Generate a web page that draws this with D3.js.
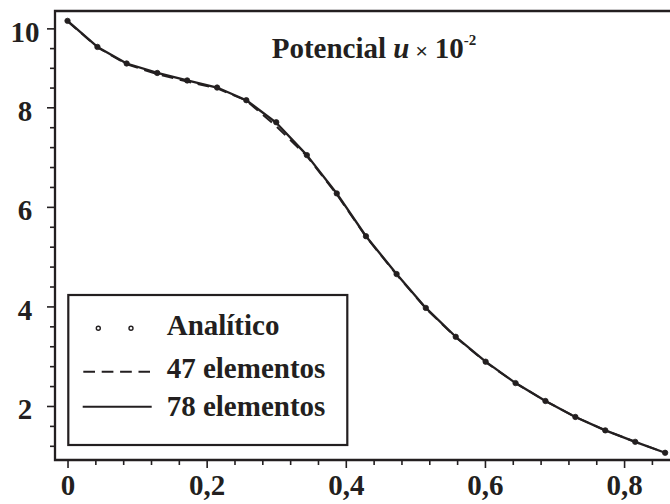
<!DOCTYPE html>
<html>
<head>
<meta charset="utf-8">
<script src="https://cdn.jsdelivr.net/npm/d3@7"></script>
<style>
  body { margin: 0; background: #fff; }
  svg { display: block; }
</style>
</head>
<body>
<svg id="chart" width="670" height="504"></svg>
<script>
// Sample positions along the section
const xNodes = [0, 0.043, 0.085, 0.129, 0.172, 0.215, 0.257, 0.300, 0.344, 0.387, 0.429,
                0.473, 0.515, 0.558, 0.601, 0.644, 0.687, 0.730, 0.773, 0.816, 0.859];
// Analytical potential u (x 10^-2)
const analitico = [10.19, 9.53, 9.11, 8.87, 8.68, 8.50, 8.18, 7.70, 7.04, 6.27, 5.41,
                   4.65, 3.97, 3.39, 2.89, 2.46, 2.10, 1.78, 1.51, 1.28, 1.06];
// FEM solution, 78 elements
const elem78 = [10.19, 9.53, 9.11, 8.87, 8.68, 8.50, 8.18, 7.69, 7.04, 6.27, 5.41,
                4.65, 3.97, 3.39, 2.89, 2.46, 2.10, 1.78, 1.51, 1.28, 1.06];
// FEM solution, 47 elements
const elem47 = [10.18, 9.52, 9.09, 8.84, 8.65, 8.48, 8.17, 7.62, 7.02, 6.25, 5.40,
                4.64, 3.96, 3.38, 2.88, 2.46, 2.10, 1.78, 1.51, 1.28, 1.06];

const xTicks = [0, 0.2, 0.4, 0.6, 0.8];
const xMinorTicks = [0.04, 0.08, 0.12, 0.16, 0.24, 0.28, 0.32, 0.36, 0.44, 0.48, 0.52, 0.56,
                     0.64, 0.68, 0.72, 0.76, 0.84];
const yTicks = [2, 4, 6, 8, 10];
const yMinorTicks = [1.2, 1.6, 2.4, 2.8, 3.2, 3.6, 4.4, 4.8, 5.2, 5.6, 6.4, 6.8, 7.2, 7.6,
                     8.5, 9, 9.5];
const legendLabels = ["Analítico", "47 elementos", "78 elementos"];

const svg = d3.select("#chart");
const frame = { left: 55, right: 670, top: 11, bottom: 460 };
const ink = "#231f20";
const serif = "'Liberation Serif', 'Times New Roman', Times, serif";

const x = d3.scaleLinear().domain([-0.018, 0.866]).range([frame.left, frame.right]);
// The axis is stretched differently above 8
const y = d3.scaleLinear().domain([0.915, 8, 10.44]).range([frame.bottom, 107.3, frame.top]);

const comma = d3.formatLocale({ decimal: ",", thousands: ".", grouping: [3], currency: ["", ""] });
const fmt = comma.format("~g");

function styleLabel(sel, size) {
  return sel.attr("font-family", serif).attr("font-weight", "bold")
    .attr("font-size", size).attr("fill", ink);
}

// --- axes ---
const gx = svg.append("g").attr("transform", `translate(0,${frame.bottom})`);
gx.append("g").call(d3.axisBottom(x).tickValues(xMinorTicks).tickSize(5).tickFormat(""));
gx.append("g").call(d3.axisBottom(x).tickValues(xTicks).tickSize(8).tickFormat(fmt));
gx.selectAll(".domain").remove();
gx.selectAll(".tick line").attr("stroke", ink).attr("stroke-width", 1.6);
styleLabel(gx.selectAll(".tick text"), 29).attr("y", 35).attr("dy", 0);

const gy = svg.append("g").attr("transform", `translate(${frame.left},0)`);
gy.append("g").call(d3.axisLeft(y).tickValues(yMinorTicks).tickSize(5).tickFormat(""));
gy.append("g").call(d3.axisLeft(y).tickValues(yTicks).tickSize(8).tickFormat(fmt));
gy.selectAll(".domain").remove();
gy.selectAll(".tick line").attr("stroke", ink).attr("stroke-width", 1.6);
styleLabel(gy.selectAll(".tick text"), 29)
  .attr("text-anchor", "middle").attr("x", -30).attr("dy", 0)
  .attr("y", d => Math.max(y(d) + 13, frame.top + 21) - y(d));

// frame lines
svg.append("path")
  .attr("d", `M${frame.right},${frame.top}H${frame.left}V${frame.bottom}H${frame.right}`)
  .attr("fill", "none").attr("stroke", ink).attr("stroke-width", 2.3);

// --- series ---
const line = d3.line().x((d, i) => x(xNodes[i])).y(d => y(d));

svg.append("path").datum(elem47)
  .attr("d", line).attr("fill", "none").attr("stroke", ink)
  .attr("stroke-width", 2).attr("stroke-dasharray", "11.7 6.7");

svg.append("path").datum(elem78)
  .attr("d", line).attr("fill", "none").attr("stroke", ink)
  .attr("stroke-width", 2.3).attr("stroke-linejoin", "round");

svg.append("g").selectAll("circle").data(analitico).join("circle")
  .attr("cx", (d, i) => x(xNodes[i])).attr("cy", d => y(d))
  .attr("r", 2.7).attr("fill", ink).attr("stroke", ink).attr("stroke-width", 0.8);

// --- title ---
const title = styleLabel(svg.append("text"), 29).attr("x", 271.7).attr("y", 57.5);
title.append("tspan").text("Potencial ");
title.append("tspan").attr("font-style", "italic").text("u");
title.append("tspan").attr("font-weight", "normal")
  .attr("font-family", "'Liberation Sans', Arial, sans-serif")
  .attr("font-size", 21).attr("dx", 6).text("×");
title.append("tspan").attr("dx", 7).text("10");
title.append("tspan").attr("font-size", 15).attr("dy", -13).text("-2");

// --- legend ---
const lg = svg.append("g");
lg.append("rect").attr("x", 68.3).attr("y", 295).attr("width", 279).attr("height", 150)
  .attr("fill", "#fff").attr("stroke", ink).attr("stroke-width", 2.2);

const rows = [335, 378.3, 416];
styleLabel(lg.selectAll("text").data(legendLabels).join("text"), 29)
  .attr("x", 166.7).attr("y", (d, i) => rows[i]).text(d => d);

lg.selectAll("circle").data([98.3, 131]).join("circle")
  .attr("cx", d => d).attr("cy", 328.3).attr("r", 2)
  .attr("fill", "#fff").attr("stroke", ink).attr("stroke-width", 1.4);
lg.append("line").attr("x1", 83.3).attr("x2", 150).attr("y1", 371.7).attr("y2", 371.7)
  .attr("stroke", ink).attr("stroke-width", 2).attr("stroke-dasharray", "11.7 6.7");
lg.append("line").attr("x1", 82.7).attr("x2", 151.7).attr("y1", 406.7).attr("y2", 406.7)
  .attr("stroke", ink).attr("stroke-width", 2);
</script>
</body>
</html>
